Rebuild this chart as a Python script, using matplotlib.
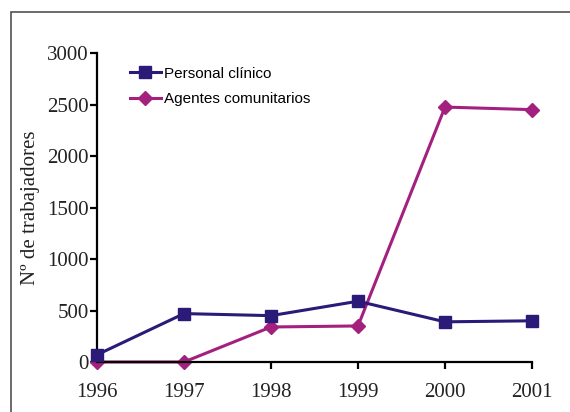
import matplotlib
matplotlib.use("Agg")
from matplotlib import pyplot as plt
from matplotlib.patches import Rectangle

years = [1996, 1997, 1998, 1999, 2000, 2001]
personal_clinico = [70, 470, 450, 590, 390, 400]
agentes_comunitarios = [0, 0, 340, 350, 2475, 2450]
yticks = [0, 500, 1000, 1500, 2000, 2500, 3000]

navy = '#2b1a78'
magenta = '#a3207f'

fig = plt.figure(figsize=(5.7, 4.12), dpi=100)
fig.patches.append(Rectangle((11/570, -0.1), 1.2, 1 - 12/412 + 0.1, transform=fig.transFigure,
                             fill=False, edgecolor='#555050', linewidth=1.2))
ax = fig.add_axes([97/570, 1 - 362/412, (532 - 97)/570, (362 - 53)/412])

ax.plot(years, personal_clinico, color=navy, linewidth=2.2, marker='s', markersize=8.5,
        label='Personal clínico', clip_on=False, zorder=3)
ax.plot(years, agentes_comunitarios, color=magenta, linewidth=2.2, marker='D', markersize=7,
        label='Agentes comunitarios', clip_on=False, zorder=2)

ax.set_xlim(1996, 2001)
ax.set_ylim(0, 3000)
ax.set_yticks(yticks)
ax.set_xticks(years)
for s in ['top', 'right']:
    ax.spines[s].set_visible(False)
for s in ['left', 'bottom']:
    ax.spines[s].set_linewidth(1.6)
ax.tick_params(axis='both', direction='out', length=5, width=1.6, labelsize=15)
ax.tick_params(axis='y', pad=1)
ax.tick_params(axis='x', pad=10)
for lab in ax.get_xticklabels() + ax.get_yticklabels():
    lab.set_family('Liberation Serif')
    lab.set_color('#222222')

ax.set_ylabel('Nº de trabajadores', family='Liberation Serif', fontsize=15, color='#222222')
ax.yaxis.set_label_coords(-0.13, 0.5)

leg = ax.legend(loc='upper left', bbox_to_anchor=(0.062, 0.975), frameon=False,
                prop={'family': 'Liberation Sans', 'size': 11}, handlelength=2.0,
                handletextpad=0.2, labelspacing=0.75, borderaxespad=0)

fig.savefig('out.png', dpi=100)
